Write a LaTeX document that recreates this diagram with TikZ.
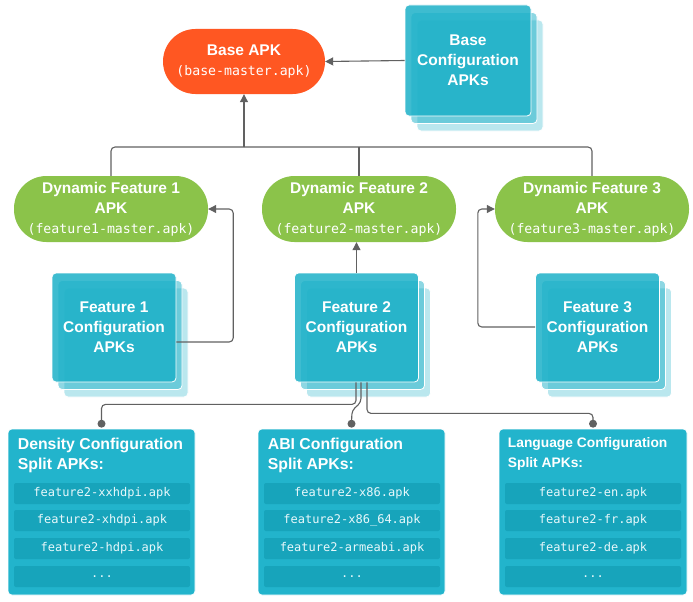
\documentclass[tikz,border=0pt]{standalone}
\usepackage{fontspec}
\setmainfont{Liberation Sans}
\newfontfamily\apkmono{DejaVu Sans Mono}
\usetikzlibrary{arrows.meta,calc}
\definecolor{apkorange}{HTML}{FF5722}
\definecolor{apkgreen}{HTML}{8BC34A}
\definecolor{apkcyan}{HTML}{1DB1C8}
\definecolor{boxcyan}{HTML}{22B4CC}
\definecolor{bardark}{HTML}{17A4BB}
\definecolor{lnk}{HTML}{616161}
\definecolor{bartext}{HTML}{E8F8FB}
\tikzset{
  pill/.style={rectangle, rounded corners=32.5pt, minimum width=194pt, minimum height=66pt,
    inner sep=0pt, align=center, text=white, font=\fontsize{15.5}{20}\selectfont\bfseries},
  layerthree/.style={rectangle, rounded corners=4pt, draw=white, line width=0.8pt, fill=apkcyan, fill opacity=0.3, inner sep=0pt},
  layertwo/.style={rectangle, rounded corners=4pt, draw=white, line width=0.8pt, fill=apkcyan, fill opacity=0.5, inner sep=0pt},
  layerone/.style={rectangle, rounded corners=4pt, draw=white, line width=0.8pt, fill=apkcyan, fill opacity=0.85, inner sep=0pt,
    text=white, text opacity=1, align=center, font=\fontsize{15.5}{20}\selectfont\bfseries},
  splitbox/.style={rectangle, rounded corners=4pt, fill=boxcyan, draw=white, line width=0.6pt,
    minimum width=187pt, minimum height=166pt, inner sep=0pt},
  splittitle/.style={anchor=north west, inner sep=0pt, align=left, text=white, font=\fontsize{15.8}{20}\selectfont\bfseries},
  bar/.style={rectangle, rounded corners=2pt, fill=bardark, minimum width=176pt, minimum height=21pt,
    inner sep=0pt, text=bartext, font=\apkmono\fontsize{12}{14}\selectfont},
  conn/.style={draw=lnk, line width=1.1pt, rounded corners=4pt},
  arr/.style={conn, -{Triangle[length=8pt,width=8pt]}},
  dot/.style={circle, fill=lnk, minimum size=8pt, inner sep=0pt},
}
\newcommand\mono[1]{{\apkmono\fontsize{13.2}{20}\selectfont\mdseries #1}}
\begin{document}
\begin{tikzpicture}[x=1pt,y=-1pt]
\useasboundingbox (0,0) rectangle (693,602);
\fill[white] (0,0) rectangle (693,602);

% Base APK
\node[pill, fill=apkorange, minimum width=162pt, minimum height=65pt] (base) at (244,61.5)
  {Base APK\\\mono{(base-master.apk)}};

% Base configuration stack
\node[layerthree, minimum width=126pt, minimum height=111pt] (bc3) at (480,75.5) {};
\node[layertwo, minimum width=126pt, minimum height=111pt] (bc2) at (474,68) {};
\node[layerone, minimum width=126pt, minimum height=111pt] (bc) at (468,60.5) {Base\\Configuration\\APKs};

% Dynamic features
\node[pill, fill=apkgreen] (df1) at (111,209) {Dynamic Feature 1\\APK\\\mono{(feature1-master.apk)}};
\node[pill, fill=apkgreen] (df2) at (359,209) {Dynamic Feature 2\\APK\\\mono{(feature2-master.apk)}};
\node[pill, fill=apkgreen] (df3) at (592,209) {Dynamic Feature 3\\APK\\\mono{(feature3-master.apk)}};

% Feature configuration stacks
\node[layerthree, minimum width=124pt, minimum height=109pt] (f1l3) at (126,342.5) {};
\node[layertwo, minimum width=124pt, minimum height=109pt] (f1l2) at (120,335) {};
\node[layerone, minimum width=124pt, minimum height=109pt] (f1) at (114,327.5) {Feature 1\\Configuration\\APKs};

\node[layerthree, minimum width=124pt, minimum height=109pt] (f2l3) at (368.5,342.5) {};
\node[layertwo, minimum width=124pt, minimum height=109pt] (f2l2) at (362.5,335) {};
\node[layerone, minimum width=124pt, minimum height=109pt] (f2) at (356.5,327.5) {Feature 2\\Configuration\\APKs};

\node[layerthree, minimum width=124pt, minimum height=109pt] (f3l3) at (609.5,342.5) {};
\node[layertwo, minimum width=124pt, minimum height=109pt] (f3l2) at (603.5,335) {};
\node[layerone, minimum width=124pt, minimum height=109pt] (f3) at (597.5,327.5) {Feature 3\\Configuration\\APKs};

% Split boxes
\node[splitbox] (dens) at (101.5,512) {};
\node[splitbox] (abi) at (351.5,512) {};
\node[splitbox, minimum width=188pt] (lang) at (593,512) {};

\node[splittitle] (denst) at ([xshift=10pt,yshift=-9pt]dens.north west) {Density Configuration\\Split APKs:};
\node[splittitle] (abit) at ([xshift=10pt,yshift=-9pt]abi.north west) {ABI Configuration\\Split APKs:};
\node[splittitle, font=\fontsize{13.8}{20}\selectfont\bfseries] (langt) at ([xshift=9pt,yshift=-9pt]lang.north west) {Language Configuration\\Split APKs:};

\node[bar] (d1) at (102,493.5) {feature2-xxhdpi.apk};
\node[bar] (d2) at (102,520.5) {feature2-xhdpi.apk};
\node[bar] (d3) at (102,548.5) {feature2-hdpi.apk};
\node[bar] (d4) at (102,576.5) {...};

\node[bar] (a1) at (352,493.5) {feature2-x86.apk};
\node[bar] (a2) at (352,520.5) {feature2-x86\_64.apk};
\node[bar] (a3) at (352,548.5) {feature2-armeabi.apk};
\node[bar] (a4) at (352,576.5) {...};

\node[bar] (l1) at (593,493.5) {feature2-en.apk};
\node[bar] (l2) at (593,520.5) {feature2-fr.apk};
\node[bar] (l3) at (593,548.5) {feature2-de.apk};
\node[bar] (l4) at (593,576.5) {...};

% Connectors
\draw[arr] (bc.west) -- (base.east);
\coordinate (junc) at (244,147);
\draw[conn] (df1.north) |- (junc);
\draw[conn] (df3.north) |- (junc);
\draw[conn] (df2.north) -- (df2.north |- junc);
\draw[arr] (junc) -- (base.south);

\draw[arr] ([yshift=-14.5pt]f1.east) -| ([xshift=25pt]df1.east) -- (df1.east);
\draw[arr] (f2.north) -- (f2.north |- df2.south);
\draw[arr] ([yshift=0.5pt]f3.west) -| ([xshift=-17pt]df3.west) -- (df3.west);

\node[dot] (dd) at ([yshift=5pt]dens.north) {};
\node[dot] (ad) at ([yshift=5pt]abi.north) {};
\node[dot] (ld) at ([yshift=5pt]lang.north) {};

\draw[conn] ([xshift=-0.5pt]f2.south) -- ++(0,22) -| (dd.center);
\draw[conn] ([xshift=4.5pt]f2.south) -- ++(0,20) -- ++(-9,8) -- (ad.center);
\draw[conn] ([xshift=10.5pt]f2.south) -- ++(0,31) -| (ld.center);
\end{tikzpicture}
\end{document}
